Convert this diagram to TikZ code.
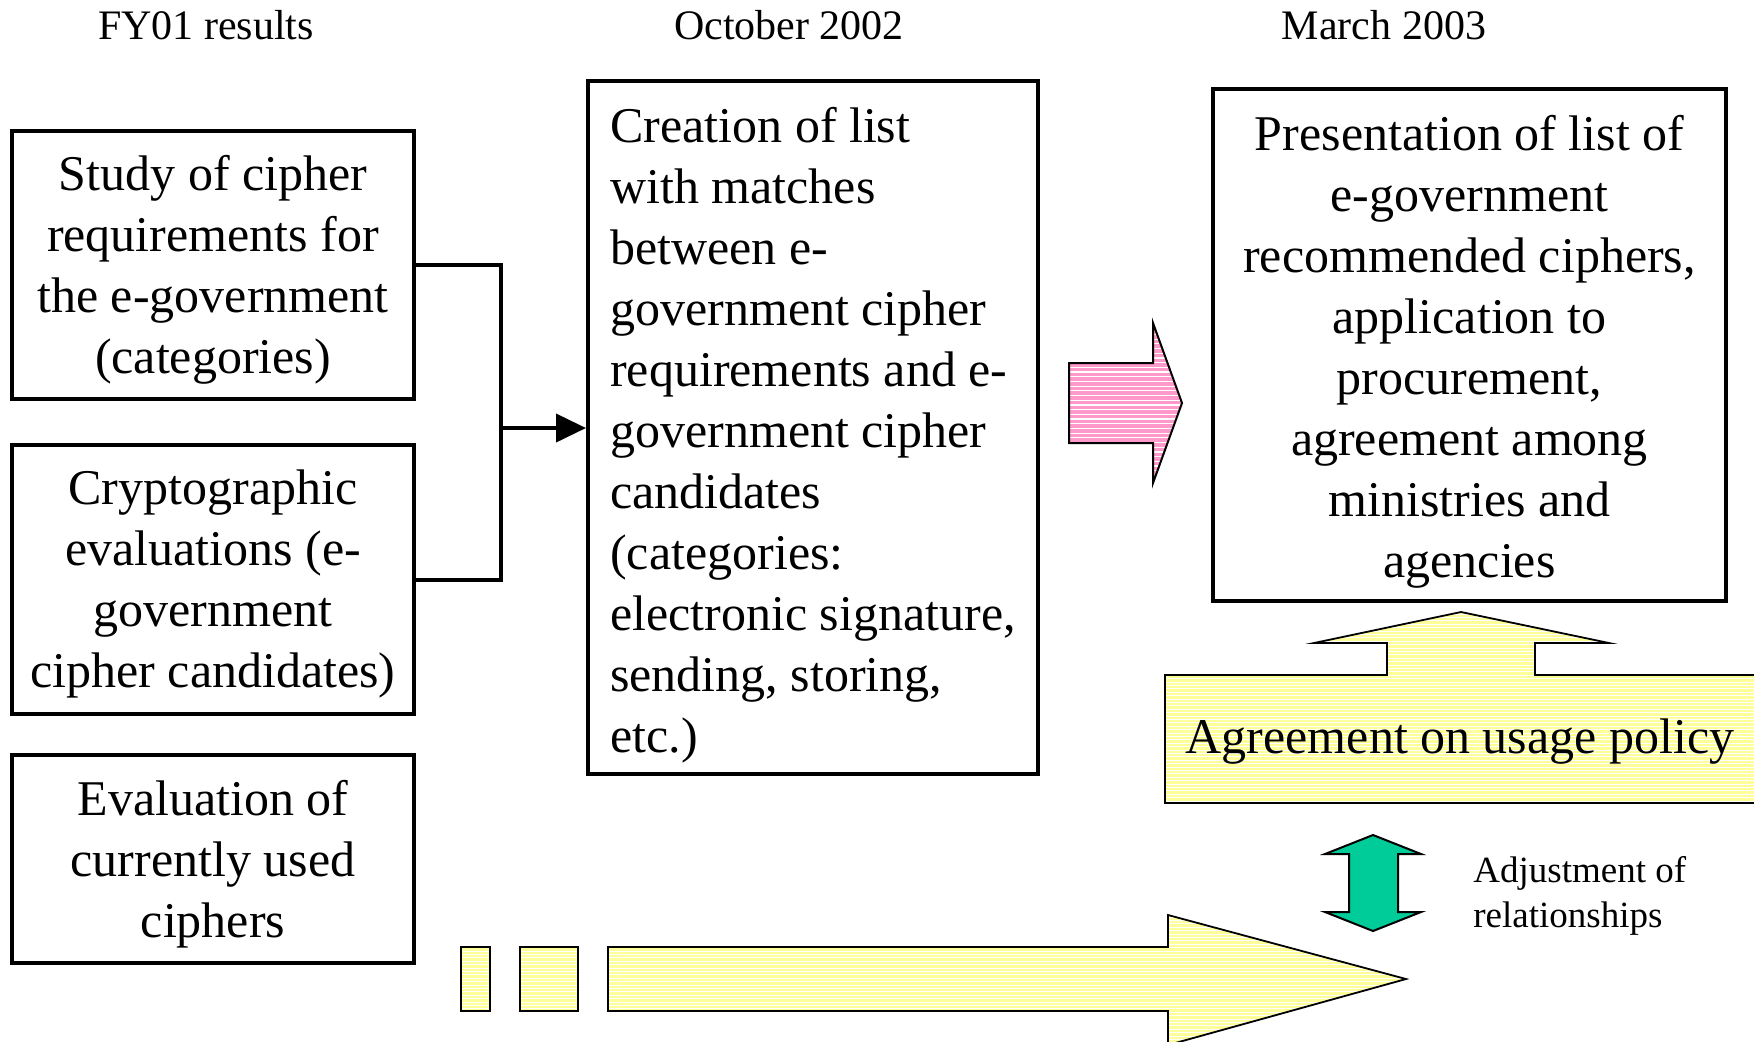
\documentclass[tikz,border=0pt]{standalone}
\usepackage{fontspec}
\setmainfont{Liberation Serif}
\usetikzlibrary{arrows.meta}
\definecolor{pinkfill}{RGB}{255,153,204}
\definecolor{yellowfill}{RGB}{255,255,153}
\definecolor{greenfill}{RGB}{0,204,153}
\newcommand\hstrutx[1]{\rule{0pt}{#1}}
\newcommand\dstrutx[1]{\rule[-#1]{0pt}{#1}}
\def\pinkpath{(1069,363) -- (1153,363) -- (1153,323) -- (1182,403) -- (1153,483) -- (1153,443) -- (1069,443) -- cycle}
\def\agreepath{(1165,803) -- (1165,675) -- (1387,675) -- (1387,643) -- (1314,643) -- (1461,612) -- (1609,643) -- (1535,643) -- (1535,675) -- (1770,675) -- (1770,803) -- cycle}
\def\bigarrowpath{(608,947) -- (1168,947) -- (1168,915) -- (1406,979) -- (1168,1045) -- (1168,1011) -- (608,1011) -- cycle}
\def\greenpath{(1373,835) -- (1421,854) -- (1398,854) -- (1398,912) -- (1421,912) -- (1373,931) -- (1325,912) -- (1349,912) -- (1349,854) -- (1325,854) -- cycle}
\begin{document}
\begin{tikzpicture}[x=0.5pt,y=-0.5pt,
  box/.style={draw, line width=2pt, inner sep=0pt, font=\fontsize{25}{30.5}\selectfont},
  hdr/.style={anchor=base, inner sep=0pt, font=\fontsize{21}{25}\selectfont},
  outl/.style={draw=black, line width=1pt, line join=miter},
  stripe/.style={white, line width=0.5pt}]
\clip (0,0) rectangle (1754,1041);
\fill[white] (0,0) rectangle (1754,1041);

% headers
\node[hdr] (h1) at (206,39) {FY01 results};
\node[hdr] (h2) at (789,39) {October 2002};
\node[hdr] (h3) at (1384,39) {March 2003};

% left boxes
\node[box, minimum width=201pt, minimum height=134pt, align=center] (study) at (213,265)
  {\hstrutx{23.5pt}Study of cipher\\requirements for\\the e-government\\(categories)\dstrutx{7pt}};
\node[box, minimum width=201pt, minimum height=134.5pt, align=center] (crypto) at (213,579.5)
  {\hstrutx{23.5pt}Cryptographic\\evaluations (e-\\government\\cipher candidates)\dstrutx{7pt}};
\node[box, minimum width=201pt, minimum height=104pt, align=center] (evalc) at (213,859)
  {\hstrutx{24.5pt}Evaluation of\\currently used\\ciphers\dstrutx{7pt}};

% middle box
\node[box, minimum width=225pt, minimum height=346.5pt, align=left] (mid) at (813,427.5)
  {\hstrutx{26.5pt}Creation of list\\with matches\\between e-\\government cipher\\requirements and e-\\government cipher\\candidates\\(categories:\\electronic signature,\\sending, storing,\\etc.)\dstrutx{7pt}};

% right box
\node[box, minimum width=256.5pt, minimum height=256pt, align=center] (pres) at (1469.5,345)
  {\hstrutx{25.5pt}Presentation of list of\\e-government\\recommended ciphers,\\application to\\procurement,\\agreement among\\ministries and\\agencies\dstrutx{7pt}};

% bracket connector
\coordinate (j) at (501,428);
\draw[line width=2pt] (study.east) -| (j) |- (crypto.east);
\draw[line width=2pt, -{Triangle[length=15pt,width=14pt]}] (j) -- (j -| mid.west);

% pink arrow
\begin{scope}
  \clip \pinkpath;
  \fill[pinkfill] (1060,315) rectangle (1190,490);
  \foreach \yy in {325,329.7,...,485} \draw[stripe, line width=0.6pt] (1060,\yy) -- (1190,\yy);
\end{scope}
\draw[outl] \pinkpath;

% agreement shape
\begin{scope}
  \clip \agreepath;
  \fill[yellowfill] (1160,605) rectangle (1775,810);
  \foreach \yy in {614,617.4,...,805} \draw[stripe, line width=0.4pt] (1160,\yy) -- (1775,\yy);
\end{scope}
\draw[outl, line width=0.9pt] \agreepath;
\node[anchor=base, inner sep=0pt, font=\fontsize{25}{30}\selectfont] (agree) at (1460,753) {Agreement on usage policy};

% green double arrow
\fill[greenfill] \greenpath;
\draw[outl] \greenpath;
\node[anchor=north west, inner sep=0pt, align=left, font=\fontsize{18.5}{22.5}\selectfont] (adj) at (1473,856)
  {Adjustment of\\relationships};

% bottom arrow and rectangles
\begin{scope}
  \clip \bigarrowpath (461,947) rectangle (490,1011) (520,947) rectangle (578,1011);
  \fill[yellowfill] (455,910) rectangle (1410,1045);
  \foreach \yy in {917,920.4,...,1045} \draw[stripe, line width=0.4pt] (455,\yy) -- (1410,\yy);
\end{scope}
\draw[outl, line width=0.9pt] \bigarrowpath;
\draw[outl, line width=0.9pt] (461,947) rectangle (490,1011);
\draw[outl, line width=0.9pt] (520,947) rectangle (578,1011);
\end{tikzpicture}
\end{document}
